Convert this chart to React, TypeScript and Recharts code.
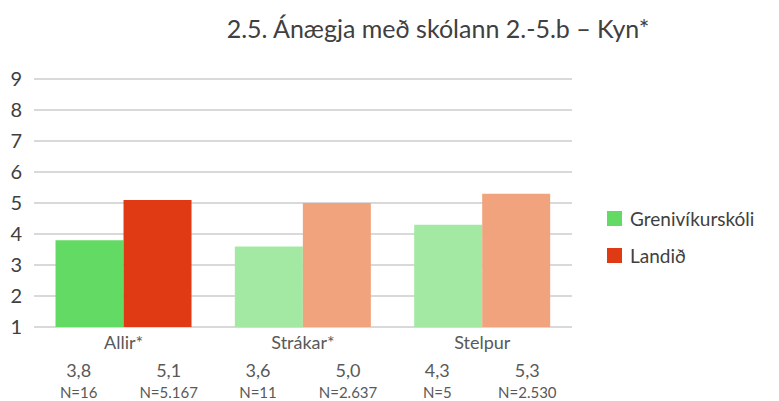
import React from "react";
import { BarChart, Bar, XAxis, YAxis, CartesianGrid, Cell } from "recharts";

const categories = ["Allir*", "Strákar*", "Stelpur"];
const schoolValues = [3.8, 3.6, 4.3];
const nationValues = [5.1, 5.0, 5.3];
const schoolN = ["N=16", "N=11", "N=5"];
const nationN = ["N=5.167", "N=2.637", "N=2.530"];
const yTicks = [1, 2, 3, 4, 5, 6, 7, 8, 9];
const seriesNames = ["Grenivíkurskóli", "Landið"];

const schoolColors = ["#63DA63", "#A3E9A3", "#A3E9A3"];
const nationColors = ["#E03A14", "#F0A37D", "#F0A37D"];

const data = categories.map((c, i) => ({
  name: c,
  school: schoolValues[i],
  nation: nationValues[i],
  schoolN: schoolN[i],
  nationN: nationN[i],
}));

const FONT = "Lato, 'Noto Sans', sans-serif";
const fmt = (v: number) => v.toFixed(1).replace(".", ",");

const CatTick = (props: any) => {
  const { x, y, payload, index } = props;
  const d = data[index];
  const off = 45;
  return (
    <g fontFamily={FONT}>
      <text x={x} y={y + 20} textAnchor="middle" fontSize={18} fill="#595959">
        {payload.value}
      </text>
      <text x={x - off} y={y + 48} textAnchor="middle" fontSize={18} fill="#595959">
        {fmt(d.school)}
      </text>
      <text x={x + off} y={y + 48} textAnchor="middle" fontSize={18} fill="#595959">
        {fmt(d.nation)}
      </text>
      <text x={x - off} y={y + 69} textAnchor="middle" fontSize={15} fill="#595959">
        {d.schoolN}
      </text>
      <text x={x + off} y={y + 69} textAnchor="middle" fontSize={15} fill="#595959">
        {d.nationN}
      </text>
    </g>
  );
};

export default function App() {
  return (
    <div style={{ position: "absolute", left: 0, top: 0, width: 779, height: 401, background: "#fff" }}>
      <div
        style={{
          position: "absolute",
          left: 0,
          width: 876,
          top: 13,
          textAlign: "center",
          fontFamily: FONT,
          fontSize: 25,
          color: "#404040",
          whiteSpace: "nowrap",
        }}
      >
        2.5. Ánægja með skólann 2.-5.b – Kyn*
      </div>
      <div
        style={{
          position: "absolute",
          left: 607,
          top: 200,
          fontFamily: FONT,
          color: "#404040",
          fontSize: 19,
        }}
      >
        {seriesNames.map((n, i) => (
          <div key={n} style={{ display: "flex", alignItems: "center", height: 37 }}>
            <div
              style={{
                width: 15,
                height: 15,
                background: i === 0 ? schoolColors[0] : nationColors[0],
                marginRight: 8,
              }}
            />
            <span>{n}</span>
          </div>
        ))}
      </div>
      <div style={{ position: "absolute", left: 0, top: 0 }}>
        <BarChart
          width={779}
          height={401}
          data={data}
          margin={{ top: 79, right: 207, bottom: 0, left: 0 }}
          barCategoryGap="12%"
          barGap={0}
        >
          <CartesianGrid vertical={false} stroke="#D9D9D9" strokeWidth={2} />
          <YAxis
            domain={[1, 9]}
            ticks={yTicks}
            width={34}
            axisLine={false}
            tickLine={false}
            tickSize={0}
            tickMargin={12}
            interval={0}
            tick={{ fontSize: 20, fill: "#404040", fontFamily: FONT }}
          />
          <XAxis
            dataKey="name"
            height={74}
            axisLine={false}
            tickLine={false}
            tickSize={0}
            interval={0}
            tick={<CatTick />}
          />
          <Bar dataKey="school" name={seriesNames[0]} fill={schoolColors[0]} isAnimationActive={false}>
            {data.map((_, i) => (
              <Cell key={i} fill={schoolColors[i]} />
            ))}
          </Bar>
          <Bar dataKey="nation" name={seriesNames[1]} fill={nationColors[0]} isAnimationActive={false}>
            {data.map((_, i) => (
              <Cell key={i} fill={nationColors[i]} />
            ))}
          </Bar>
        </BarChart>
      </div>
    </div>
  );
}
